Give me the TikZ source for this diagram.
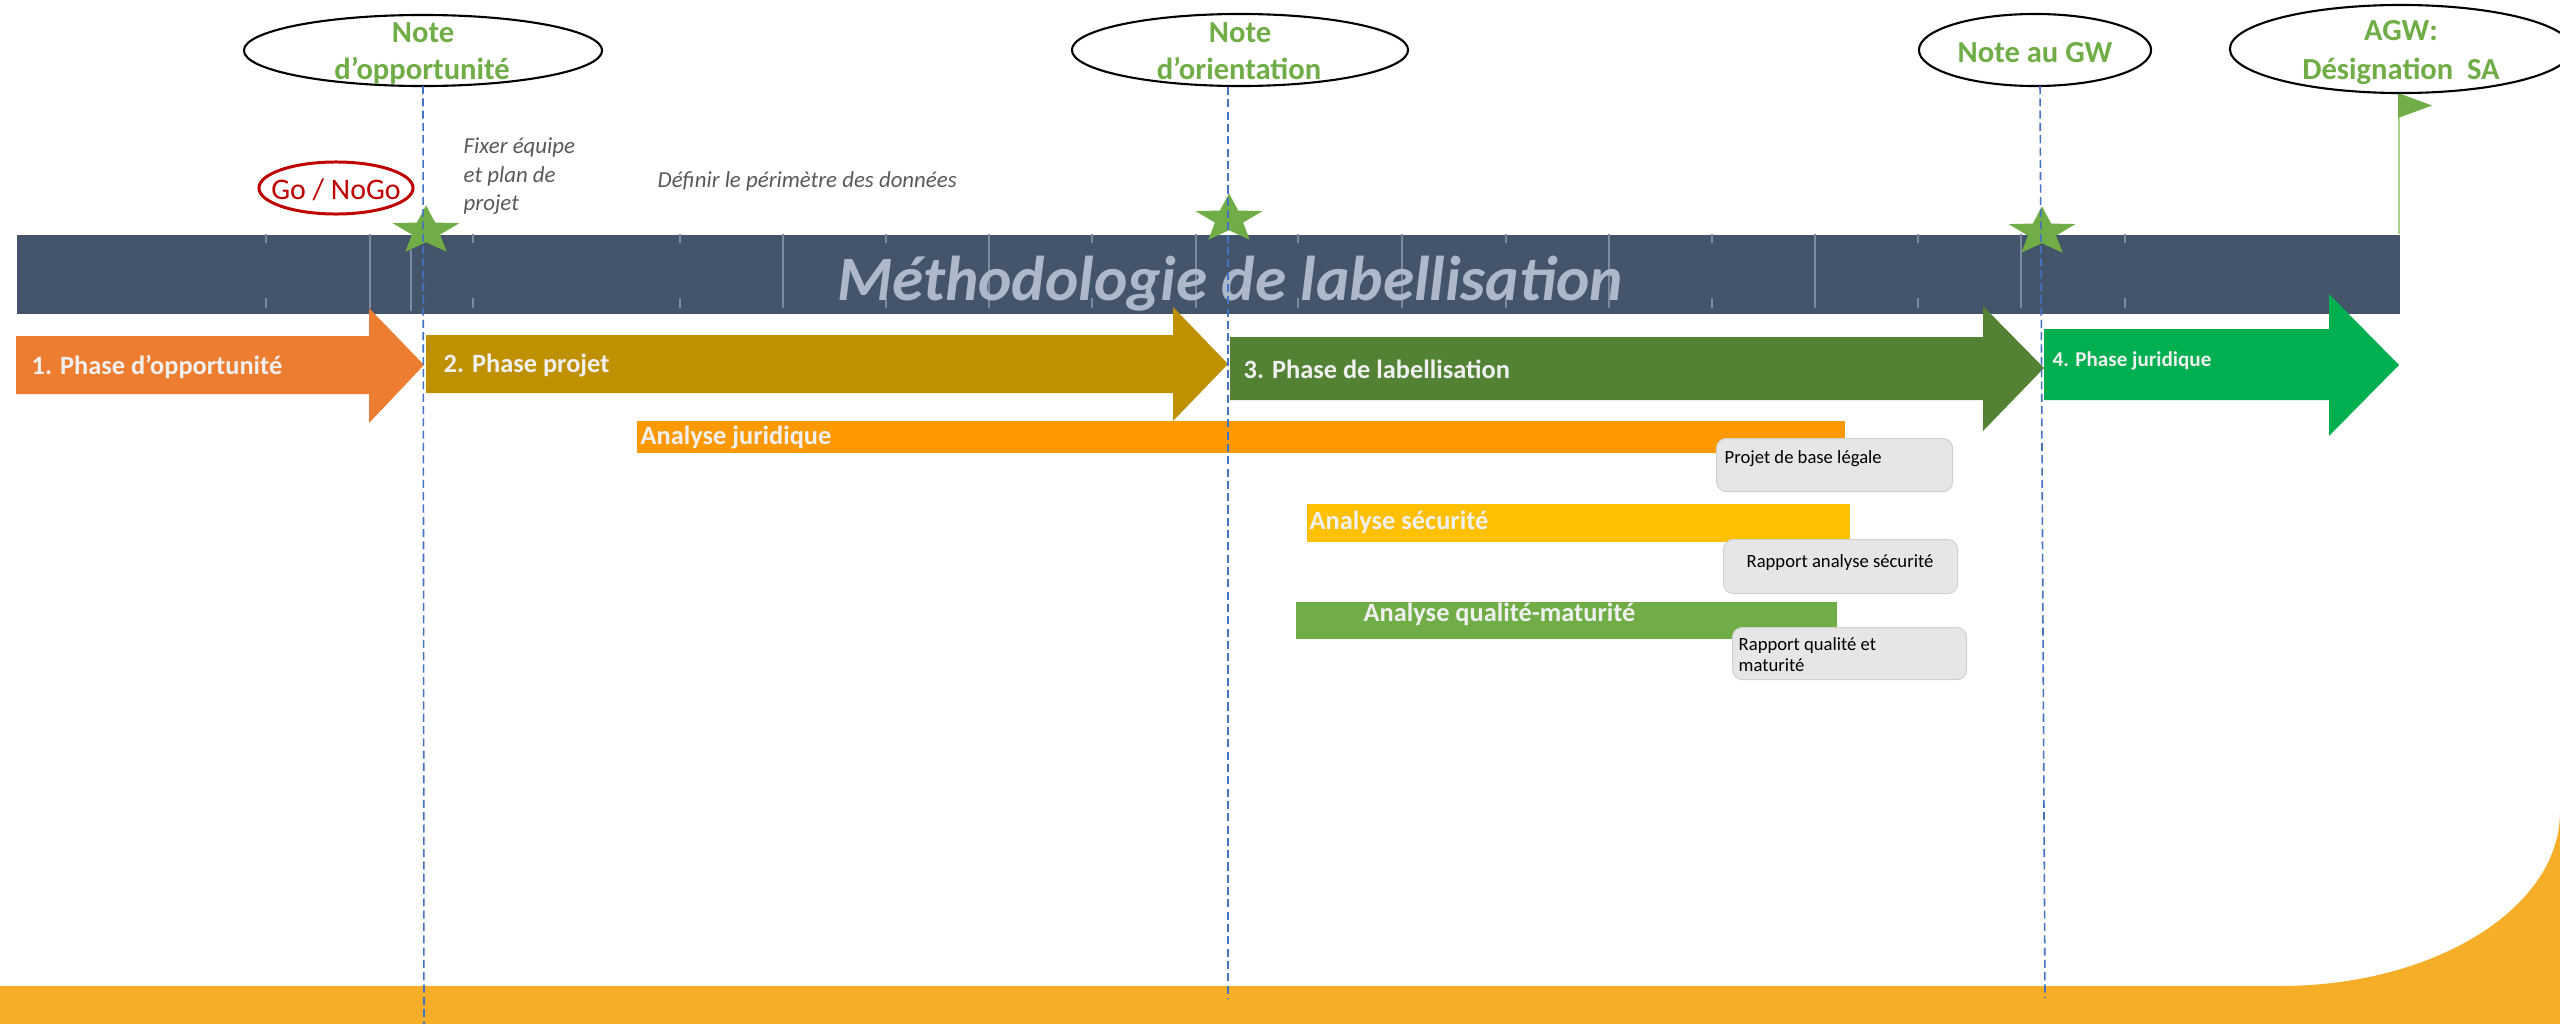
\documentclass[tikz,border=0pt]{standalone}
\usepackage{fontspec}
\setmainfont{Carlito}
\usetikzlibrary{shapes.geometric}
\definecolor{barblue}{HTML}{44546A}
\definecolor{titlecol}{HTML}{ADB9CA}
\definecolor{tickcol}{HTML}{7C8AA0}
\definecolor{ph1}{HTML}{ED7D31}
\definecolor{ph2}{HTML}{BF9000}
\definecolor{ph3}{HTML}{548235}
\definecolor{ph4}{HTML}{00B050}
\definecolor{ajur}{HTML}{FF9900}
\definecolor{asec}{HTML}{FFC000}
\definecolor{aqual}{HTML}{70AD47}
\definecolor{notegreen}{HTML}{70AD47}
\definecolor{gored}{HTML}{C00000}
\definecolor{dashblue}{HTML}{4472C4}
\definecolor{bandcol}{HTML}{F6AD27}
\definecolor{boxgray}{HTML}{E6E6E6}
\definecolor{greytxt}{HTML}{595959}
\definecolor{offwhite}{HTML}{F0F0F0}
\definecolor{flagpole}{HTML}{A9D18E}
\begin{document}
\begin{tikzpicture}[x=0.01cm,y=-0.01cm,
  notering/.style={ellipse,draw=black,line width=0.6pt,fill=white,inner sep=0pt},
  notetxt/.style={font=\fontsize{8.7}{10.8}\selectfont\bfseries,text=notegreen,anchor=base,inner sep=0pt},
  milestone/.style={draw=dashblue,dash pattern=on 2.3pt off 1.2pt,line width=0.45pt},
  phasetxt/.style={font=\fontsize{7.5}{9}\selectfont\bfseries,text=offwhite,anchor=base west,inner sep=0pt},
  smallphase/.style={font=\fontsize{6}{7}\selectfont\bfseries,text=offwhite,anchor=base west,inner sep=0pt},
  delivbox/.style={rectangle,rounded corners=2.8pt,fill=boxgray,draw=black!18,line width=0.3pt,inner sep=0pt,anchor=north west},
  delivtxt/.style={font=\fontsize{5.3}{6}\selectfont,text=black,inner sep=0pt},
  notecomment/.style={font=\fontsize{6.5}{8.2}\selectfont\itshape,text=greytxt,inner sep=0pt,anchor=base west},
  fullick/.style={draw=tickcol,line width=0.5pt},
  greenstar/.pic={\fill[notegreen] (0,-1) -- (0.26,-0.33) -- (0.951,-0.309) -- (0.40,0.14) -- (0.588,0.809) -- (0,0.44) -- (-0.588,0.809) -- (-0.40,0.14) -- (-0.951,-0.309) -- (-0.26,-0.33) -- cycle;}
]
\useasboundingbox (0,0) rectangle (2560,1024);

% bottom band
\fill[bandcol] (0,986) -- (2280,986) .. controls (2434.6,986) and (2560,908.1) .. (2560,812) -- (2560,1024) -- (0,1024) -- cycle;

% title bar
\node[fill=barblue,minimum width=23.82cm,minimum height=0.79cm,inner sep=0pt,anchor=north west] (bar) at (16,234) {};
\foreach \xx in {370,783,989,1196,1402,1609,1815,2021}{\draw[fullick] (\xx,234) -- (\xx,308);}
\draw[fullick] (411,250) -- (411,311);
\foreach \xx in {266,473,680,886,1092,1298,1506,1712,1918,2125}{\draw[fullick] (\xx,234) -- (\xx,243); \draw[fullick] (\xx,298) -- (\xx,308);}
\node[font=\fontsize{18}{21}\selectfont\bfseries\itshape,text=titlecol,anchor=base,inner sep=0pt] (title) at (1230,300) {Méthodologie de labellisation};

% stars
\pic[xscale=35.2,yscale=25.6] at (426,231) {greenstar};
\pic[xscale=35.2,yscale=25.6] at (1229,219) {greenstar};
\pic[xscale=35.2,yscale=25.6] at (2042,232) {greenstar};

% flag
\coordinate (flagtop) at (2399,118);
\coordinate (flagbase) at (2399,234);
\draw[flagpole,line width=0.6pt] (flagtop) -- (flagbase);
\fill[notegreen] (2398,93) -- (2432,105.5) -- (2398,118) -- cycle;

% note ellipses
\node[notering,minimum width=3.58cm,minimum height=0.71cm] (e1) at (423,50.5) {};
\node[notetxt] (e1a) at (423,42) {Note};
\node[notetxt] (e1b) at (422,80) {d’opportunité};
\node[notering,minimum width=3.36cm,minimum height=0.72cm] (e2) at (1240,50) {};
\node[notetxt] (e2a) at (1240,42) {Note};
\node[notetxt] (e2b) at (1239,80) {d’orientation};
\node[notering,minimum width=2.32cm,minimum height=0.72cm] (e3) at (2035,50) {};
\node[notetxt] (e3a) at (2035,62) {Note au GW};
\node[notering,minimum width=3.42cm,minimum height=0.88cm] (e4) at (2401,49) {};
\node[notetxt] (e4a) at (2401,41) {AGW:};
\node[notetxt] (e4b) at (2401,80) {Désignation\hspace{0.226em} SA};

% go / nogo
\node[ellipse,draw=gored,line width=0.85pt,minimum width=1.54cm,minimum height=0.52cm,inner sep=0pt] (gonogo) at (336,188) {};
\node[font=\fontsize{8.5}{10}\selectfont,text=gored,anchor=base,inner sep=0pt] (gotxt) at (336,199) {Go / NoGo};

% comments
\node[notecomment] (fixa) at (463,153) {Fixer équipe};
\node[notecomment] (fixb) at (463,182) {et plan de};
\node[notecomment] (fixc) at (463,210) {projet};
\node[notecomment] (definir) at (657,187) {Définir le périmètre des données};

% phase arrows
\fill[ph1] (16,336) -- (369,336) -- (369,308) -- (424,365) -- (369,423) -- (369,394) -- (16,394) -- cycle;
\fill[ph2] (426,335) -- (1173,335) -- (1173,307) -- (1228,364) -- (1173,421) -- (1173,393) -- (426,393) -- cycle;
\fill[ph3] (1230,337) -- (1983,337) -- (1983,306) -- (2044,368) -- (1983,431) -- (1983,400) -- (1230,400) -- cycle;
\fill[ph4] (2044,329) -- (2329,329) -- (2329,294) -- (2399,365) -- (2329,436) -- (2329,400) -- (2044,400) -- cycle;
\node[phasetxt] (p1) at (31,374) {1. Phase d’opportunité};
\node[phasetxt] (p2) at (443,372) {2. Phase projet};
\node[phasetxt] (p3) at (1243,378) {3. Phase de labellisation};
\node[smallphase] (p4) at (2052,366) {4. Phase juridique};

% analysis bars
\fill[ajur] (637,421) rectangle (1845,453);
\fill[asec] (1307,504) rectangle (1850,542);
\fill[aqual] (1296,602) rectangle (1837,639);
\node[phasetxt] (a1) at (640,444) {Analyse juridique};
\node[phasetxt] (a2) at (1309,529) {Analyse sécurité};
\node[phasetxt] (a3) at (1363,621) {Analyse qualité-maturité};

% deliverables
\node[delivbox,minimum width=2.36cm,minimum height=0.53cm] (b1) at (1716,438) {};
\node[delivtxt,anchor=base west] (b1t) at (1724,463) {Projet de base légale};
\node[delivbox,minimum width=2.34cm,minimum height=0.54cm] (b2) at (1723,539) {};
\node[delivtxt,anchor=base] (b2t) at (1840,567) {Rapport analyse sécurité};
\node[delivbox,minimum width=2.34cm,minimum height=0.52cm] (b3) at (1732,627) {};
\node[delivtxt,anchor=base west] (b3t) at (1738,650) {Rapport qualité et};
\node[delivtxt,anchor=base west] (b3u) at (1738,671) {maturité};

% milestone dashed lines
\coordinate (m1top) at (423,86);
\coordinate (m1bot) at (424,1024);
\coordinate (m2top) at (1228,87);
\coordinate (m2bot) at (1228,998);
\coordinate (m3top) at (2040,86);
\coordinate (m3bot) at (2045,998);
\draw[milestone] (m1top) -- (m1bot);
\draw[milestone] (m2top) -- (m2bot);
\draw[milestone] (m3top) -- (m3bot);
\end{tikzpicture}
\end{document}
